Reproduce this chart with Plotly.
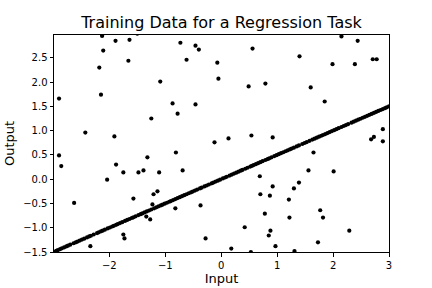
import plotly.graph_objects as go

title = "Training Data for a Regression Task"
x_label = "Input"
y_label = "Output"

# points lying on the underlying linear trend
line_x = [-2.99,-2.95,-2.92,-2.88,-2.85,-2.81,-2.77,-2.74,-2.70,-2.64,
          -2.60,-2.57,-2.53,-2.49,-2.45,-2.40,-2.36,-2.33,-2.28,-2.22,
          -2.19,-2.15,-2.12,-2.08,-2.03,-1.99,-1.95,-1.92,-1.88,-1.85,
          -1.81,-1.77,-1.72,-1.68,-1.64,-1.60,-1.57,-1.53,-1.48,-1.44,
          -1.41,-1.37,-1.33,-1.29,-1.25,-1.20,-1.16,-1.12,-1.08,-1.05,
          -1.01,-0.97,-0.93,-0.90,-0.86,-0.82,-0.78,-0.74,-0.70,-0.66,
          -0.62,-0.58,-0.54,-0.51,-0.47,-0.43,-0.38,-0.35,-0.30,-0.26,
          -0.22,-0.17,-0.14,-0.10,-0.06,-0.02,0.03,0.07,0.10,0.15,
          0.19,0.23,0.27,0.31,0.35,0.38,0.43,0.47,0.52,0.55,
          0.58,0.62,0.66,0.70,0.74,0.79,0.83,0.86,0.90,0.95,
          0.99,1.03,1.07,1.11,1.15,1.19,1.23,1.26,1.30,1.35,
          1.39,1.45,1.49,1.53,1.58,1.63,1.67,1.71,1.75,1.79,
          1.82,1.86,1.90,1.94,1.98,2.02,2.06,2.10,2.15,2.19,
          2.23,2.27,2.33,2.37,2.41,2.45,2.49,2.53,2.57,2.61,
          2.65,2.69,2.73,2.77,2.81,2.85,2.89,2.93,2.96,3.00]
line_y = [-1.495,-1.475,-1.46,-1.44,-1.425,-1.405,-1.385,-1.37,-1.35,-1.32,
          -1.30,-1.285,-1.265,-1.245,-1.225,-1.20,-1.18,-1.165,-1.14,-1.11,
          -1.095,-1.075,-1.06,-1.04,-1.015,-0.995,-0.975,-0.96,-0.94,-0.925,
          -0.905,-0.885,-0.86,-0.84,-0.82,-0.80,-0.785,-0.765,-0.74,-0.72,
          -0.705,-0.685,-0.665,-0.645,-0.625,-0.60,-0.58,-0.56,-0.54,-0.525,
          -0.505,-0.485,-0.465,-0.45,-0.43,-0.41,-0.39,-0.37,-0.35,-0.33,
          -0.31,-0.29,-0.27,-0.255,-0.235,-0.215,-0.19,-0.175,-0.15,-0.13,
          -0.11,-0.085,-0.07,-0.05,-0.03,-0.01,0.015,0.035,0.05,0.075,
          0.095,0.115,0.135,0.155,0.175,0.19,0.215,0.235,0.26,0.275,
          0.29,0.31,0.33,0.35,0.37,0.395,0.415,0.43,0.45,0.475,
          0.495,0.515,0.535,0.555,0.575,0.595,0.615,0.63,0.65,0.675,
          0.695,0.725,0.745,0.765,0.79,0.815,0.835,0.855,0.875,0.895,
          0.91,0.93,0.95,0.97,0.99,1.01,1.03,1.05,1.075,1.095,
          1.115,1.135,1.165,1.185,1.205,1.225,1.245,1.265,1.285,1.305,
          1.325,1.345,1.365,1.385,1.405,1.425,1.445,1.465,1.48,1.50]

# outlier points
out_x = [-2.13,-1.89,-1.64,-2.11,-1.66,-2.18,-1.09,-2.90,-2.15,-1.25,-2.43,-1.91,
         -0.73,-0.46,-0.40,0.56,-0.62,-0.07,-0.05,0.49,0.79,-0.87,-0.46,-0.78,-0.12,0.13,0.54,0.92,
         2.15,2.44,1.40,1.99,2.39,2.71,2.78,1.60,1.85,2.89,2.68,2.73,2.89,
         -2.90,-2.86,-2.63,-2.34,-1.88,-1.75,-2.04,-1.32,-1.48,-1.39,-1.11,-1.57,-1.14,-1.21,-1.23,-1.34,-1.27,-1.75,-1.73,
         -0.81,-0.69,-0.82,-0.37,-0.28,0.18,0.53,0.42,0.69,0.70,0.92,0.87,0.78,0.88,0.85,0.97,
         1.65,1.56,2.01,1.39,1.30,1.21,1.77,1.82,1.22,2.29,1.73,1.31,-1.50]
out_y = [2.95,2.85,2.87,2.65,2.44,2.30,2.01,1.66,1.74,1.25,0.96,0.88,
         2.81,2.75,2.67,2.69,2.46,2.40,2.07,1.91,1.97,1.56,1.54,1.35,0.76,0.84,0.90,0.86,
         2.94,2.85,2.53,2.37,2.37,2.47,2.47,1.89,1.60,1.03,0.82,0.87,0.78,
         0.49,0.27,-0.49,-1.38,0.30,0.14,-0.01,0.45,0.14,0.18,0.14,-0.40,-0.25,-0.31,-0.52,-0.77,-0.83,-1.14,-1.22,
         0.55,0.18,-0.60,-0.54,-1.22,-1.43,-1.50,-0.99,0.06,-0.31,-0.15,-0.34,-0.71,-1.06,-1.16,-1.38,
         0.55,0.18,0.16,-0.07,-0.19,-0.42,-0.64,-0.79,-0.79,-1.06,-1.30,-1.48,3.00]

x_range = [-2.99, 3.0]
y_range = [-1.5, 2.97]

fig = go.Figure()
fig.add_trace(go.Scatter(x=line_x + out_x, y=line_y + out_y, mode="markers",
                         marker=dict(color="black", size=4.2, line=dict(width=0)),
                         showlegend=False, cliponaxis=True))

axis_common = dict(showline=True, linecolor="black", linewidth=1, mirror=True,
                   ticks="outside", ticklen=3.5, tickwidth=1, tickcolor="black",
                   showgrid=False, zeroline=False, automargin=False,
                   tickfont=dict(family="DejaVu Sans", size=10, color="black"))

fig.update_xaxes(range=x_range, tickvals=[-2, -1, 0, 1, 2, 3],
                 title=dict(text=x_label, font=dict(family="DejaVu Sans", size=13, color="black"), standoff=4),
                 **axis_common)
fig.update_yaxes(range=y_range, tickvals=[-1.5, -1.0, -0.5, 0.0, 0.5, 1.0, 1.5, 2.0, 2.5],
                 tickformat=".1f",
                 title=dict(text=y_label, font=dict(family="DejaVu Sans", size=13, color="black"), standoff=5),
                 **axis_common)

fig.update_layout(
    width=432, height=288,
    margin=dict(l=54, r=43, t=35, b=36),
    plot_bgcolor="white", paper_bgcolor="white",
    title=dict(text=title, x=0.5, xanchor="center", xref="paper", y=1 - 22/288, yanchor="middle",
               font=dict(family="DejaVu Sans", size=16, color="black")),
)

fig.write_html("out.html")
